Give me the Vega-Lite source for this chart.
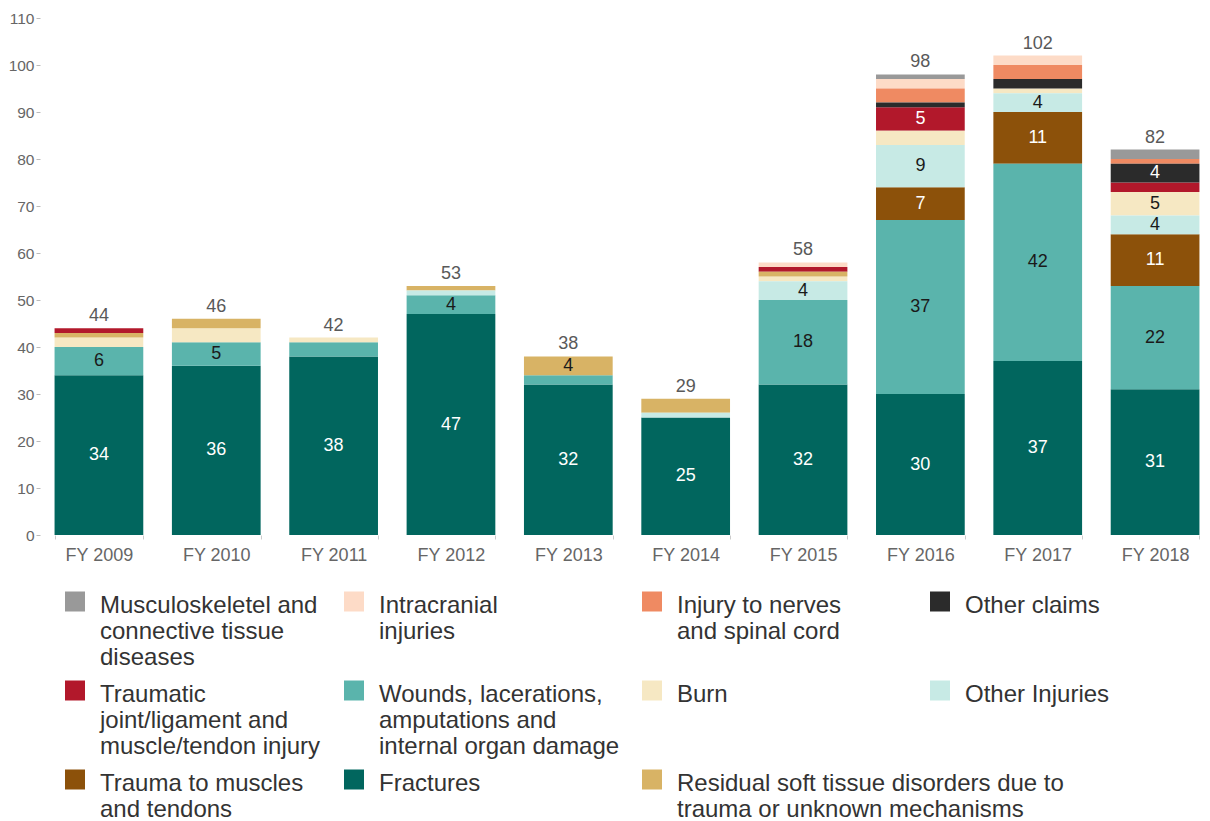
{
  "$schema": "https://vega.github.io/schema/vega-lite/v6.json",
  "width": 1166,
  "height": 517,
  "autosize": {"type": "none"},
  "padding": {"left": 44, "top": 18, "right": 0, "bottom": 286},
  "config": {
    "view": {"stroke": null},
    "font": "Liberation Sans",
    "axisY": {"domain": false, "grid": false, "tickSize": 4, "tickColor": "#bbbbbb", "labelFontSize": 15.5, "labelColor": "#666666", "labelPadding": 2, "offset": 4},
    "axisX": {"domain": false, "grid": false, "tickSize": 4, "tickColor": "#cccccc", "tickBand": "extent", "labelFontSize": 18, "labelColor": "#666666", "labelPadding": 7, "labelAngle": 0},
    "legend": {"orient": "none", "title": null, "padding": 0, "symbolType": "M-1,-0.25H1V1.75H-1Z", "symbolSize": 400, "symbolStrokeWidth": 0, "symbolOpacity": 1, "labelFontSize": 24, "labelColor": "#333333", "labelBaseline": "top", "labelOffset": 13, "labelLimit": 800, "rowPadding": 1, "direction": "vertical"}
  },
  "data": {
    "values": [
      {"year": "FY 2009", "category": "Fractures", "value": 34},
      {"year": "FY 2009", "category": "Wounds, lacerations, amputations and internal organ damage", "value": 6},
      {"year": "FY 2009", "category": "Burn", "value": 2},
      {"year": "FY 2009", "category": "Residual soft tissue disorders due to trauma or unknown mechanisms", "value": 1},
      {"year": "FY 2009", "category": "Traumatic joint/ligament and muscle/tendon injury", "value": 1},
      {"year": "FY 2010", "category": "Fractures", "value": 36},
      {"year": "FY 2010", "category": "Wounds, lacerations, amputations and internal organ damage", "value": 5},
      {"year": "FY 2010", "category": "Burn", "value": 3},
      {"year": "FY 2010", "category": "Residual soft tissue disorders due to trauma or unknown mechanisms", "value": 2},
      {"year": "FY 2011", "category": "Fractures", "value": 38},
      {"year": "FY 2011", "category": "Wounds, lacerations, amputations and internal organ damage", "value": 3},
      {"year": "FY 2011", "category": "Burn", "value": 1},
      {"year": "FY 2012", "category": "Fractures", "value": 47},
      {"year": "FY 2012", "category": "Wounds, lacerations, amputations and internal organ damage", "value": 4},
      {"year": "FY 2012", "category": "Other Injuries", "value": 1},
      {"year": "FY 2012", "category": "Residual soft tissue disorders due to trauma or unknown mechanisms", "value": 1},
      {"year": "FY 2013", "category": "Fractures", "value": 32},
      {"year": "FY 2013", "category": "Wounds, lacerations, amputations and internal organ damage", "value": 2},
      {"year": "FY 2013", "category": "Residual soft tissue disorders due to trauma or unknown mechanisms", "value": 4},
      {"year": "FY 2014", "category": "Fractures", "value": 25},
      {"year": "FY 2014", "category": "Other Injuries", "value": 1},
      {"year": "FY 2014", "category": "Residual soft tissue disorders due to trauma or unknown mechanisms", "value": 3},
      {"year": "FY 2015", "category": "Fractures", "value": 32},
      {"year": "FY 2015", "category": "Wounds, lacerations, amputations and internal organ damage", "value": 18},
      {"year": "FY 2015", "category": "Other Injuries", "value": 4},
      {"year": "FY 2015", "category": "Burn", "value": 1},
      {"year": "FY 2015", "category": "Residual soft tissue disorders due to trauma or unknown mechanisms", "value": 1},
      {"year": "FY 2015", "category": "Traumatic joint/ligament and muscle/tendon injury", "value": 1},
      {"year": "FY 2015", "category": "Intracranial injuries", "value": 1},
      {"year": "FY 2016", "category": "Fractures", "value": 30},
      {"year": "FY 2016", "category": "Wounds, lacerations, amputations and internal organ damage", "value": 37},
      {"year": "FY 2016", "category": "Trauma to muscles and tendons", "value": 7},
      {"year": "FY 2016", "category": "Other Injuries", "value": 9},
      {"year": "FY 2016", "category": "Burn", "value": 3},
      {"year": "FY 2016", "category": "Traumatic joint/ligament and muscle/tendon injury", "value": 5},
      {"year": "FY 2016", "category": "Other claims", "value": 1},
      {"year": "FY 2016", "category": "Injury to nerves and spinal cord", "value": 3},
      {"year": "FY 2016", "category": "Intracranial injuries", "value": 2},
      {"year": "FY 2016", "category": "Musculoskeletel and connective tissue diseases", "value": 1},
      {"year": "FY 2017", "category": "Fractures", "value": 37},
      {"year": "FY 2017", "category": "Wounds, lacerations, amputations and internal organ damage", "value": 42},
      {"year": "FY 2017", "category": "Trauma to muscles and tendons", "value": 11},
      {"year": "FY 2017", "category": "Other Injuries", "value": 4},
      {"year": "FY 2017", "category": "Burn", "value": 1},
      {"year": "FY 2017", "category": "Other claims", "value": 2},
      {"year": "FY 2017", "category": "Injury to nerves and spinal cord", "value": 3},
      {"year": "FY 2017", "category": "Intracranial injuries", "value": 2},
      {"year": "FY 2018", "category": "Fractures", "value": 31},
      {"year": "FY 2018", "category": "Wounds, lacerations, amputations and internal organ damage", "value": 22},
      {"year": "FY 2018", "category": "Trauma to muscles and tendons", "value": 11},
      {"year": "FY 2018", "category": "Other Injuries", "value": 4},
      {"year": "FY 2018", "category": "Burn", "value": 5},
      {"year": "FY 2018", "category": "Traumatic joint/ligament and muscle/tendon injury", "value": 2},
      {"year": "FY 2018", "category": "Other claims", "value": 4},
      {"year": "FY 2018", "category": "Injury to nerves and spinal cord", "value": 1},
      {"year": "FY 2018", "category": "Musculoskeletel and connective tissue diseases", "value": 2}
    ]
  },
  "transform": [
    {"calculate": "indexof(['Fractures','Wounds, lacerations, amputations and internal organ damage','Trauma to muscles and tendons','Other Injuries','Burn','Residual soft tissue disorders due to trauma or unknown mechanisms','Traumatic joint/ligament and muscle/tendon injury','Other claims','Injury to nerves and spinal cord','Intracranial injuries','Musculoskeletel and connective tissue diseases'], datum.category)", "as": "ord"},
    {"stack": "value", "groupby": ["year"], "sort": [{"field": "ord", "order": "ascending"}], "as": ["y0", "y1"]}
  ],
  "encoding": {
    "x": {"field": "year", "type": "nominal", "title": null, "scale": {"paddingInner": 0.244, "paddingOuter": 0.09}}
  },
  "layer": [
    {
      "transform": [{"filter": {"field": "category", "oneOf": ["Musculoskeletel and connective tissue diseases", "Traumatic joint/ligament and muscle/tendon injury", "Trauma to muscles and tendons"]}}],
      "mark": {"type": "bar"},
      "encoding": {
        "y": {"field": "y0", "type": "quantitative", "title": null, "scale": {"domain": [0, 110]}, "axis": {"values": [0, 10, 20, 30, 40, 50, 60, 70, 80, 90, 100, 110]}},
        "y2": {"field": "y1"},
        "color": {"field": "category", "type": "nominal",
          "scale": {"domain": ["Musculoskeletel and connective tissue diseases", "Traumatic joint/ligament and muscle/tendon injury", "Trauma to muscles and tendons"], "range": ["#999999", "#b2182b", "#8c510a"]},
          "legend": {"legendX": 19, "legendY": 564, "labelExpr": "datum.label == 'Musculoskeletel and connective tissue diseases' ? ['Musculoskeletel and', 'connective tissue', 'diseases'] : datum.label == 'Trauma to muscles and tendons' ? ['Trauma to muscles', 'and tendons'] : ['Traumatic', 'joint/ligament and', 'muscle/tendon injury']"}}
      }
    },
    {
      "transform": [{"filter": {"field": "category", "oneOf": ["Intracranial injuries", "Wounds, lacerations, amputations and internal organ damage", "Fractures"]}}],
      "mark": {"type": "bar"},
      "encoding": {
        "y": {"field": "y0", "type": "quantitative", "title": null, "scale": {"domain": [0, 110]}, "axis": {"values": [0, 10, 20, 30, 40, 50, 60, 70, 80, 90, 100, 110]}},
        "y2": {"field": "y1"},
        "color": {"field": "category", "type": "nominal",
          "scale": {"domain": ["Intracranial injuries", "Wounds, lacerations, amputations and internal organ damage", "Fractures"], "range": ["#fddbc7", "#5ab4ac", "#01665e"]},
          "legend": {"legendX": 298, "legendY": 564, "labelExpr": "datum.label == 'Intracranial injuries' ? ['Intracranial', 'injuries', ''] : datum.label == 'Fractures' ? 'Fractures' : ['Wounds, lacerations,', 'amputations and', 'internal organ damage']"}}
      }
    },
    {
      "transform": [{"filter": {"field": "category", "oneOf": ["Injury to nerves and spinal cord", "Burn", "Residual soft tissue disorders due to trauma or unknown mechanisms"]}}],
      "mark": {"type": "bar"},
      "encoding": {
        "y": {"field": "y0", "type": "quantitative", "title": null, "scale": {"domain": [0, 110]}, "axis": {"values": [0, 10, 20, 30, 40, 50, 60, 70, 80, 90, 100, 110]}},
        "y2": {"field": "y1"},
        "color": {"field": "category", "type": "nominal",
          "scale": {"domain": ["Injury to nerves and spinal cord", "Burn", "Residual soft tissue disorders due to trauma or unknown mechanisms"], "range": ["#ef8a62", "#f6e8c3", "#d8b365"]},
          "legend": {"legendX": 596, "legendY": 564, "labelExpr": "datum.label == 'Burn' ? ['Burn', '', ''] : datum.label == 'Injury to nerves and spinal cord' ? ['Injury to nerves', 'and spinal cord', ''] : ['Residual soft tissue disorders due to', 'trauma or unknown mechanisms']"}}
      }
    },
    {
      "transform": [{"filter": {"field": "category", "oneOf": ["Other claims", "Other Injuries"]}}],
      "mark": {"type": "bar"},
      "encoding": {
        "y": {"field": "y0", "type": "quantitative", "title": null, "scale": {"domain": [0, 110]}, "axis": {"values": [0, 10, 20, 30, 40, 50, 60, 70, 80, 90, 100, 110]}},
        "y2": {"field": "y1"},
        "color": {"field": "category", "type": "nominal",
          "scale": {"domain": ["Other claims", "Other Injuries"], "range": ["#2b2b2b", "#c7eae5"]},
          "legend": {"legendX": 884, "legendY": 564, "labelExpr": "datum.label == 'Other claims' ? ['Other claims', '', ''] : 'Other Injuries'"}}
      }
    },
    {
      "transform": [{"filter": "datum.value >= 4"}, {"calculate": "(datum.y0 + datum.y1) / 2", "as": "mid"}],
      "mark": {"type": "text", "fontSize": 18, "baseline": "middle"},
      "encoding": {
        "y": {"field": "mid", "type": "quantitative", "title": null, "scale": {"domain": [0, 110]}, "axis": {"values": [0, 10, 20, 30, 40, 50, 60, 70, 80, 90, 100, 110]}},
        "text": {"field": "value", "type": "quantitative"},
        "color": {"condition": {"test": "indexof(['Fractures', 'Trauma to muscles and tendons', 'Traumatic joint/ligament and muscle/tendon injury', 'Other claims'], datum.category) >= 0", "value": "#ffffff"}, "value": "#1a1a1a"}
      }
    },
    {
      "transform": [{"aggregate": [{"op": "sum", "field": "value", "as": "total"}], "groupby": ["year"]}],
      "mark": {"type": "text", "fontSize": 18, "baseline": "alphabetic", "dy": -7, "color": "#595959"},
      "encoding": {
        "y": {"field": "total", "type": "quantitative", "title": null, "scale": {"domain": [0, 110]}, "axis": {"values": [0, 10, 20, 30, 40, 50, 60, 70, 80, 90, 100, 110]}},
        "text": {"field": "total", "type": "quantitative"}
      }
    }
  ],
  "resolve": {"scale": {"color": "independent"}}
}
